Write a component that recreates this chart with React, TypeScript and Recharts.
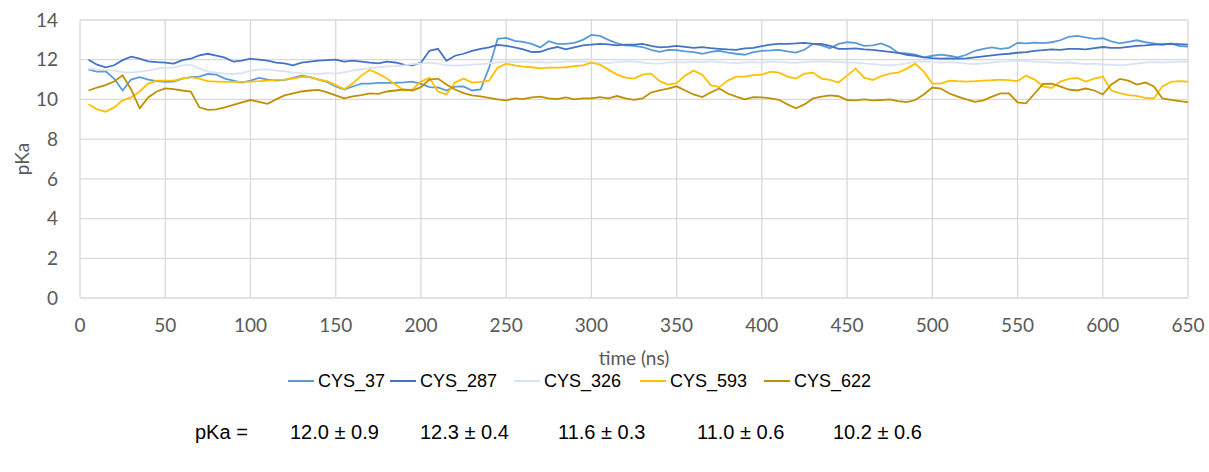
import React from "react";
import { CartesianGrid, Legend, Line, LineChart, XAxis, YAxis } from "recharts";

// time (ns), one sample every 5 ns
const timeNs = [
  5, 10, 15, 20, 25, 30, 35, 40, 45, 50,
  55, 60, 65, 70, 75, 80, 85, 90, 95, 100,
  105, 110, 115, 120, 125, 130, 135, 140, 145, 150,
  155, 160, 165, 170, 175, 180, 185, 190, 195, 200,
  205, 210, 215, 220, 225, 230, 235, 240, 245, 250,
  255, 260, 265, 270, 275, 280, 285, 290, 295, 300,
  305, 310, 315, 320, 325, 330, 335, 340, 345, 350,
  355, 360, 365, 370, 375, 380, 385, 390, 395, 400,
  405, 410, 415, 420, 425, 430, 435, 440, 445, 450,
  455, 460, 465, 470, 475, 480, 485, 490, 495, 500,
  505, 510, 515, 520, 525, 530, 535, 540, 545, 550,
  555, 560, 565, 570, 575, 580, 585, 590, 595, 600,
  605, 610, 615, 620, 625, 630, 635, 640, 645, 650,
];

const cys37 = [
  11.5, 11.4, 11.42, 11.05, 10.45, 11.0, 11.12, 11.0, 10.92, 10.88,
  10.9, 11.05, 11.12, 11.15, 11.28, 11.25, 11.05, 10.95, 10.85, 10.95,
  11.08, 11.0, 10.95, 10.98, 11.08, 11.2, 11.12, 11.0, 10.88, 10.65,
  10.5, 10.65, 10.8, 10.8, 10.83, 10.83, 10.84, 10.86, 10.9, 10.78,
  10.62, 10.6, 10.45, 10.64, 10.66, 10.45, 10.5, 11.6, 13.05, 13.1,
  12.95, 12.9, 12.8, 12.62, 12.93, 12.8, 12.8, 12.85, 13.0, 13.25,
  13.2, 13.0, 12.82, 12.72, 12.7, 12.64, 12.5, 12.4, 12.5, 12.48,
  12.42, 12.38, 12.3, 12.4, 12.45, 12.36, 12.3, 12.25, 12.38, 12.45,
  12.47, 12.5, 12.42, 12.36, 12.5, 12.8, 12.72, 12.58, 12.8, 12.88,
  12.85, 12.7, 12.72, 12.82, 12.65, 12.34, 12.32, 12.25, 12.12, 12.2,
  12.26, 12.2, 12.12, 12.25, 12.45, 12.55, 12.62, 12.55, 12.6, 12.85,
  12.82, 12.86, 12.84, 12.88, 12.98, 13.15, 13.2, 13.12, 13.05, 13.08,
  12.92, 12.82, 12.9, 12.98, 12.88, 12.82, 12.75, 12.82, 12.68, 12.66,
];

const cys287 = [
  12.0, 11.75, 11.62, 11.72, 11.98, 12.15, 12.05, 11.92, 11.88, 11.85,
  11.8, 11.98, 12.05, 12.22, 12.3, 12.2, 12.1, 11.9, 11.95, 12.05,
  12.0, 11.95, 11.85, 11.82, 11.72, 11.85, 11.9, 11.95, 11.98, 12.0,
  11.9, 11.95, 11.9, 11.85, 11.82, 11.9, 11.86, 11.75, 11.72, 11.85,
  12.45, 12.55, 11.95, 12.2, 12.3, 12.45, 12.55, 12.62, 12.75, 12.7,
  12.62, 12.52, 12.38, 12.4, 12.55, 12.64, 12.52, 12.62, 12.72, 12.76,
  12.8, 12.77, 12.72, 12.76, 12.76, 12.8, 12.7, 12.62, 12.65, 12.7,
  12.65, 12.6, 12.63, 12.58, 12.55, 12.52, 12.5, 12.57, 12.6, 12.68,
  12.76, 12.8, 12.8, 12.82, 12.85, 12.8, 12.8, 12.7, 12.55, 12.55,
  12.57, 12.52, 12.5, 12.45, 12.4, 12.34, 12.25, 12.2, 12.12, 12.08,
  12.05, 12.07, 12.05, 12.07, 12.12, 12.17, 12.22, 12.27, 12.3, 12.35,
  12.38, 12.45, 12.48, 12.52, 12.5, 12.55, 12.55, 12.52, 12.58, 12.64,
  12.6, 12.6, 12.65, 12.7, 12.72, 12.76, 12.78, 12.8, 12.78, 12.76,
];

const cys326 = [
  11.55, 11.5, 11.48, 11.45, 11.38, 11.35, 11.4, 11.45, 11.55, 11.6,
  11.6, 11.72, 11.75, 11.55, 11.4, 11.35, 11.3, 11.28, 11.33, 11.45,
  11.5, 11.52, 11.45, 11.42, 11.35, 11.32, 11.3, 11.28, 11.32, 11.3,
  11.38, 11.45, 11.52, 11.58, 11.62, 11.66, 11.68, 11.72, 11.78, 11.82,
  11.85, 11.8, 11.72, 11.7, 11.72, 11.75, 11.78, 11.82, 11.86, 11.9,
  11.88, 11.9, 11.86, 11.88, 11.85, 11.88, 11.9, 11.92, 11.9, 11.88,
  11.85, 11.83, 11.88, 11.92, 11.9, 11.86, 11.82, 11.8, 11.85, 11.88,
  11.86, 11.9, 11.88, 11.92, 11.88, 11.85, 11.83, 11.86, 11.88, 11.85,
  11.9, 11.88, 11.86, 11.84, 11.88, 11.9, 11.92, 11.9, 11.88, 11.86,
  11.85, 11.82, 11.78, 11.74, 11.72, 11.75, 11.82, 11.9, 11.92, 11.88,
  11.86, 11.88, 11.85, 11.8, 11.78, 11.82, 11.86, 11.9, 11.92, 11.95,
  11.93, 11.9, 11.88, 11.86, 11.84, 11.86, 11.82, 11.78, 11.8, 11.76,
  11.74, 11.72, 11.75, 11.8, 11.86, 11.88, 11.86, 11.88, 11.9, 11.88,
];

const cys593 = [
  9.76, 9.5, 9.38, 9.6, 9.95, 10.1, 10.4, 10.8, 10.95, 10.95,
  10.95, 11.05, 11.12, 11.05, 10.92, 10.9, 10.88, 10.88, 10.88, 10.9,
  10.92, 10.95, 10.98, 11.0, 11.05, 11.14, 11.12, 11.0, 10.92, 10.72,
  10.52, 10.8, 11.2, 11.48, 11.3, 11.05, 10.75, 10.45, 10.5, 10.9,
  11.08, 10.4, 10.25, 10.85, 11.05, 10.85, 10.88, 10.95, 11.6, 11.8,
  11.72, 11.65, 11.62, 11.56, 11.6, 11.6, 11.62, 11.68, 11.72, 11.85,
  11.75, 11.5, 11.25, 11.1, 11.05, 11.25, 11.3, 10.92, 10.75, 10.82,
  11.2, 11.45, 11.25, 10.72, 10.62, 10.95, 11.15, 11.15, 11.22, 11.25,
  11.4, 11.35, 11.15, 11.05, 11.3, 11.35, 11.05, 10.98, 10.85, 11.2,
  11.55, 11.1, 10.98, 11.17, 11.3, 11.35, 11.55, 11.8, 11.4, 10.8,
  10.8, 10.95, 10.92, 10.9, 10.92, 10.95, 10.97, 11.0, 10.97, 10.92,
  11.2, 11.0, 10.66, 10.57, 10.9, 11.03, 11.08, 10.9, 11.05, 11.15,
  10.45, 10.32, 10.22, 10.18, 10.08, 10.05, 10.65, 10.88, 10.92, 10.9,
];

const cys622 = [
  10.45, 10.6, 10.72, 10.9, 11.22, 10.5, 9.55, 10.1, 10.4, 10.56,
  10.52, 10.45, 10.4, 9.6, 9.47, 9.5, 9.6, 9.72, 9.85, 9.97,
  9.88, 9.78, 10.0, 10.2, 10.3, 10.4, 10.45, 10.48, 10.35, 10.2,
  10.05, 10.15, 10.22, 10.3, 10.28, 10.4, 10.45, 10.5, 10.45, 10.62,
  11.0, 11.05, 10.75, 10.5, 10.32, 10.2, 10.15, 10.08, 10.0, 9.95,
  10.05, 10.02, 10.1, 10.14, 10.05, 10.02, 10.1, 10.0, 10.05, 10.05,
  10.12, 10.05, 10.17, 10.05, 9.98, 10.05, 10.35, 10.45, 10.55, 10.66,
  10.45, 10.25, 10.12, 10.35, 10.55, 10.3, 10.14, 10.0, 10.12, 10.1,
  10.05, 9.98, 9.75, 9.55, 9.75, 10.05, 10.14, 10.2, 10.16, 9.97,
  9.95, 10.0, 9.95, 9.97, 10.0, 9.92, 9.86, 9.97, 10.25, 10.6,
  10.55, 10.3, 10.14, 10.0, 9.88, 9.95, 10.14, 10.3, 10.3, 9.85,
  9.8, 10.3, 10.78, 10.8, 10.66, 10.5, 10.45, 10.55, 10.45, 10.25,
  10.75, 11.03, 10.95, 10.75, 10.85, 10.65, 10.05, 9.98, 9.92, 9.86,
];

const seriesNames = ["CYS_37", "CYS_287", "CYS_326", "CYS_593", "CYS_622"];
const seriesColors = ["#5b9bd5", "#4472c4", "#dae3f3", "#ffc000", "#bf9000"];
const pkaMean = [12.0, 12.3, 11.6, 11.0, 10.2];
const pkaSd = [0.9, 0.4, 0.3, 0.6, 0.6];

const xTicks = [0, 50, 100, 150, 200, 250, 300, 350, 400, 450, 500, 550, 600, 650];
const yTicks = [0, 2, 4, 6, 8, 10, 12, 14];

const seriesValues = [cys37, cys287, cys326, cys593, cys622];

const rows = timeNs.map((t, i) => {
  const row: Record<string, number> = { t };
  seriesNames.forEach((name, s) => {
    row[name] = seriesValues[s][i];
  });
  return row;
});

const axisFont = { fill: "#595959", fontSize: 19, fontFamily: "Lato, 'Liberation Sans', sans-serif" };

// legend item x positions and stats row x positions (page px)
const legendLeft = [288, 390, 514, 640, 764];
const statLeft = [290, 420, 558, 697, 833];

function ChartLegend({ payload }: any) {
  // keep the series order, not the alphabetical one
  const items = [...(payload ?? [])].sort(
    (a: any, b: any) => seriesNames.indexOf(a.value) - seriesNames.indexOf(b.value)
  );
  return (
    <div style={{ position: "relative", height: 92, fontFamily: "'Liberation Sans', Arial, sans-serif", color: "#000" }}>
      {items.map((entry: any, i: number) => (
        <div
          key={entry.value}
          style={{ position: "absolute", left: legendLeft[i], top: 0, height: 22, display: "flex", alignItems: "center", whiteSpace: "nowrap" }}
        >
          <span style={{ display: "inline-block", width: 26, height: 2, background: entry.color, marginRight: 4 }} />
          <span style={{ fontSize: 18 }}>{entry.value}</span>
        </div>
      ))}
      <div style={{ position: "absolute", left: 195, top: 50, height: 24, lineHeight: "24px", fontSize: 20, whiteSpace: "nowrap" }}>
        pKa =
      </div>
      {pkaMean.map((m, i) => (
        <div
          key={seriesNames[i]}
          style={{ position: "absolute", left: statLeft[i], top: 50, height: 24, lineHeight: "24px", fontSize: 20, whiteSpace: "nowrap" }}
        >
          {m.toFixed(1)} ± {pkaSd[i].toFixed(1)}
        </div>
      ))}
    </div>
  );
}

export default function App() {
  return (
    <div style={{ position: "absolute", left: 0, top: 0, width: 1209, height: 472, background: "#fff" }}>
      <LineChart width={1209} height={472} data={rows} margin={{ top: 20, right: 21, bottom: 10, left: 0 }}>
        <CartesianGrid stroke="#d9d9d9" strokeWidth={1.3} />
        <XAxis
          dataKey="t"
          type="number"
          domain={[0, 650]}
          ticks={xTicks}
          axisLine={false}
          tickLine={false}
          tickSize={0}
          tickMargin={21}
          height={72}
          tick={axisFont}
          label={{ value: "time (ns)", position: "insideBottom", offset: 5, ...axisFont }}
        />
        <YAxis
          domain={[0, 14]}
          ticks={yTicks}
          width={80}
          axisLine={false}
          tickLine={false}
          tickSize={0}
          tickMargin={22}
          tick={axisFont}
          label={{ value: "pKa", angle: -90, position: "center", dx: -18, ...axisFont }}
        />
        <Legend verticalAlign="bottom" align="left" content={<ChartLegend />} />
        {seriesNames.map((name, s) => (
          <Line
            key={name}
            type="linear"
            dataKey={name}
            name={name}
            stroke={seriesColors[s]}
            strokeWidth={1.8}
            dot={false}
            activeDot={false}
            isAnimationActive={false}
          />
        ))}
      </LineChart>
    </div>
  );
}
